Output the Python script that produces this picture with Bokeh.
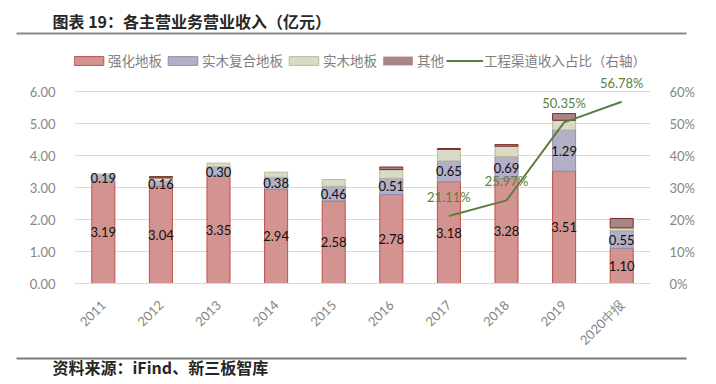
import math
from bokeh.plotting import figure
from bokeh.models import (ColumnDataSource, Range1d, LinearAxis, FixedTicker,
                          NumeralTickFormatter, Legend, LegendItem, LabelSet,
                          FactorRange, Title, ColorBar, LinearColorMapper)
from bokeh.core.properties import value
from bokeh.embed import file_html
from bokeh.resources import INLINE

# ---------------- data ----------------
years = ["2011", "2012", "2013", "2014", "2015", "2016", "2017", "2018", "2019", "2020中报"]
qianghua = [3.19, 3.04, 3.35, 2.94, 2.58, 2.78, 3.18, 3.28, 3.51, 1.10]   # 强化地板
fuhe = [0.19, 0.16, 0.30, 0.38, 0.46, 0.51, 0.65, 0.69, 1.29, 0.55]       # 实木复合地板
shimu = [0.04, 0.10, 0.11, 0.16, 0.21, 0.27, 0.36, 0.32, 0.30, 0.09]      # 实木地板
qita = [0.00, 0.04, 0.00, 0.00, 0.00, 0.08, 0.03, 0.05, 0.21, 0.29]       # 其他
pct_years = ["2017", "2018", "2019", "2020中报"]
pct_vals = [21.11, 25.97, 50.35, 56.78]                                   # 工程渠道收入占比 %
left_ticks = [0, 1, 2, 3, 4, 5, 6]
right_ticks = [0, 10, 20, 30, 40, 50, 60]

title_text = "图表 19：各主营业务营业收入（亿元）"
source_text = "资料来源：iFind、新三板智库"
series_names = ["强化地板", "实木复合地板", "实木地板", "其他"]
line_name = "工程渠道收入占比（右轴）"

# ---------------- style / layout ----------------
fills = ["#D39391", "#B3AFC6", "#D9DBC6", "#A98686"]
lines = ["#C0504D", "#938FAF", "#B9BC9A", "#7B2C2A"]
green = "#5B7F3F"
tick_color = "#858585"
grid_color = "#D9D9D9"
cjk = "Noto Sans CJK SC"
PX_PER_UNIT = 32          # vertical pixels per 1.00 on the left axis
FRAME_H = 240             # plot area extends up to hold the legend
y_top = FRAME_H / PX_PER_UNIT

src = ColumnDataSource(dict(
    year=years, qh=qianghua, fh=fuhe, sm=shimu, qt=qita,
    qh_mid=[a / 2 for a in qianghua],
    fh_mid=[a + b / 2 for a, b in zip(qianghua, fuhe)],
    qh_lbl=["%.2f" % v for v in qianghua],
    fh_lbl=["%.2f" % v for v in fuhe],
    qt_line=[lines[3] if v > 0 else None for v in qita],
))

p = figure(x_range=FactorRange(factors=years), y_range=Range1d(0, y_top),
           width=716, height=384,
           frame_width=576, frame_height=FRAME_H,
           min_border_left=74, min_border_right=66,
           min_border_top=384 - 101 - FRAME_H, min_border_bottom=101,
           output_backend="svg", toolbar_location=None)
p.outline_line_color = None

p.extra_y_ranges = {"pct": Range1d(0, y_top / 10)}

rs = p.vbar_stack(["qh", "fh", "sm", "qt"], x="year", width=0.4, source=src,
                  fill_color=fills,
                  line_color=[lines[0], lines[1], lines[2], "qt_line"],
                  line_width=1)

ln = p.line(x=pct_years, y=[v / 100 for v in pct_vals], y_range_name="pct",
            line_color=green, line_width=2)

# bar labels
for ycol, tcol in (("qh_mid", "qh_lbl"), ("fh_mid", "fh_lbl")):
    p.add_layout(LabelSet(x="year", y=ycol, text=tcol, source=src,
                          text_align="center", text_baseline="middle",
                          text_font=value("Lato"), text_font_size="13px",
                          text_color="#111111"))

psrc = ColumnDataSource(dict(year=pct_years, pct=[v / 100 for v in pct_vals],
                             lbl=["%.2f%%" % v for v in pct_vals]))
p.add_layout(LabelSet(x="year", y="pct", text="lbl", source=psrc, y_range_name="pct",
                      y_offset=19, text_align="center", text_baseline="middle",
                      text_font=value("Lato"), text_font_size="13px", text_color=green))

# axes
p.yaxis.ticker = FixedTicker(ticks=left_ticks)
p.yaxis.formatter = NumeralTickFormatter(format="0.00")
p.ygrid.ticker = FixedTicker(ticks=left_ticks)
p.ygrid.grid_line_color = grid_color
p.xgrid.grid_line_color = None

ry = LinearAxis(y_range_name="pct", ticker=FixedTicker(ticks=[t / 100 for t in right_ticks]),
                formatter=NumeralTickFormatter(format="0%"))
p.add_layout(ry, "right")

for ax in p.yaxis:
    ax.axis_line_color = None
    ax.major_tick_line_color = None
    ax.minor_tick_line_color = None
    ax.major_label_standoff = 13
    ax.major_label_text_font = "Lato"
    ax.major_label_text_font_size = "13px"
    ax.major_label_text_color = tick_color

xa = p.xaxis[0]
xa.axis_line_color = grid_color
xa.major_tick_line_color = None
xa.minor_tick_line_color = None
xa.major_label_orientation = math.pi / 4
xa.major_label_standoff = 13
xa.major_label_text_font = "Lato"
xa.major_label_text_font_size = "13px"
xa.major_label_text_color = tick_color

# legend inside the (extended) plot area
items = [LegendItem(label=n, renderers=[r]) for n, r in zip(series_names, rs)]
items.append(LegendItem(label=line_name, renderers=[ln]))
leg = Legend(items=items, location=(-4, 213), orientation="horizontal",
             glyph_width=37, glyph_height=11, label_standoff=1, spacing=2,
             padding=0, margin=0, border_line_color=None, background_fill_alpha=0,
             label_text_font=cjk, label_text_font_size="13.5px",
             label_text_color="#7F7F7F")
p.add_layout(leg, "center")


def rule(color, vx, vy):
    return ColorBar(color_mapper=LinearColorMapper(palette=[color], low=0, high=1),
                    orientation="horizontal", width=670, height=2,
                    location=(vx, vy), padding=0, margin=0,
                    ticker=FixedTicker(ticks=[]), major_label_text_font_size="0px",
                    major_tick_line_color=None, minor_tick_line_color=None,
                    bar_line_color=None, border_line_color=None,
                    background_fill_alpha=0, label_standoff=0,
                    major_tick_in=0, major_tick_out=0)


# ---- above: rule (next to plot), title ----
p.add_layout(rule("#8A8A8A", -58, 9), "above")
p.add_layout(Title(text=title_text, align="left", offset=-22, standoff=0,
                   text_font=cjk, text_font_style="bold", text_font_size="16px",
                   text_color="#262626"), "above")

# ---- below: axis (next to plot), rule, source ----
p.add_layout(rule("#7A7A7A", -58, -3), "below")
p.add_layout(Title(text=source_text, align="left", offset=-22, standoff=-8,
                   text_font=cjk, text_font_style="bold", text_font_size="16px",
                   text_color="#262626"), "below")

open("out.html", "w").write(file_html(p, INLINE))
